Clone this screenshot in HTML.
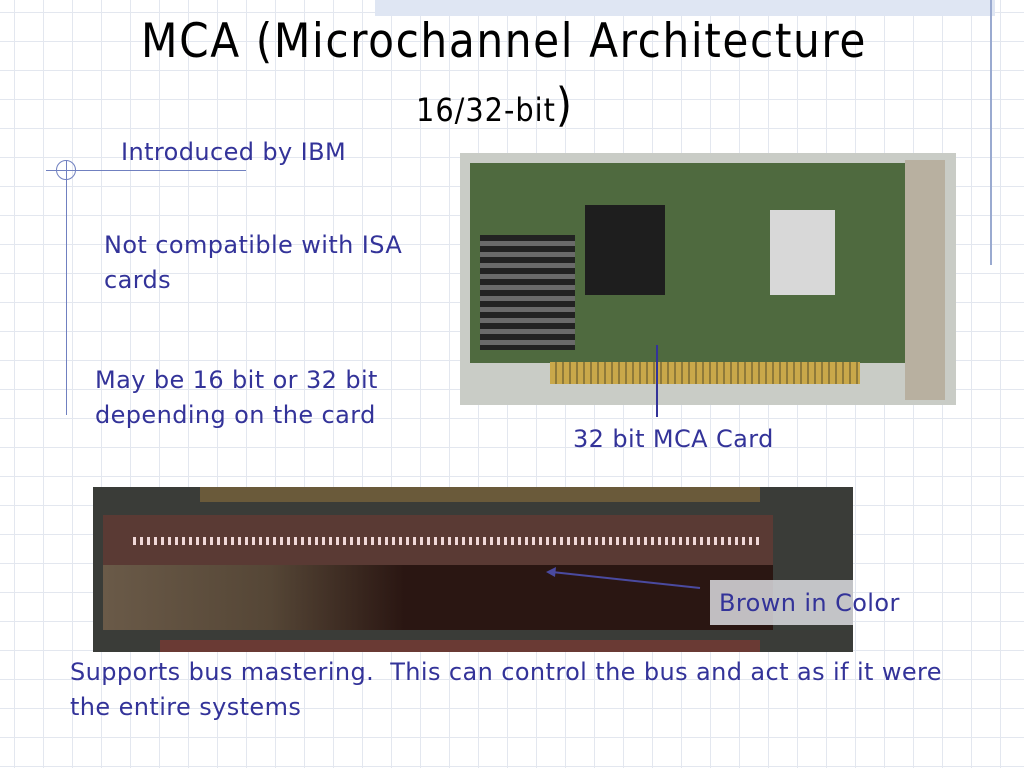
<!DOCTYPE html>
<html><head><style>
body{margin:0}
#s{position:relative;width:1024px;height:768px;overflow:hidden;background-color:#fff;
background-image:linear-gradient(#e3e7ef 1px,transparent 1px),linear-gradient(90deg,#e3e7ef 1px,transparent 1px);
background-size:29px 29px;background-position:14px 12px;font-family:"DejaVu Sans Condensed","Liberation Sans",sans-serif}
.t{position:absolute;color:#333399;font-size:24px;line-height:35px;font-family:"DejaVu Sans",sans-serif;letter-spacing:0.4px;white-space:nowrap}
.a{position:absolute}
</style></head><body><div id="s">
<div class="a" style="left:375px;top:0;width:620px;height:16px;background:#dfe6f3"></div>
<div class="a" style="left:990px;top:0;width:2px;height:265px;background:#9aaad0"></div>
<div class="a" style="left:46px;top:170px;width:200px;height:1px;background:#7080c0"></div>
<div class="a" style="left:66px;top:160px;width:1px;height:255px;background:#7080c0"></div>
<div class="a" style="left:56px;top:160px;width:20px;height:20px;border:1px solid #7080c0;border-radius:50%;box-sizing:border-box"></div>
<div class="a" style="left:0;top:14px;width:1008px;text-align:center;font-size:47px;line-height:56px;color:#000;letter-spacing:1.6px">MCA (Microchannel Architecture</div>
<div class="a" style="left:416px;top:80px;font-size:32px;line-height:50px;color:#000;letter-spacing:1px">16/32-bit<span style="font-size:46px">)</span></div>
<div class="t" style="left:121px;top:135px">Introduced by IBM</div>
<div class="t" style="left:104px;top:228px">Not compatible with ISA<br>cards</div>
<div class="t" style="left:95px;top:363px">May be 16 bit or 32 bit<br>depending on the card</div>
<div class="t" style="left:573px;top:422px">32 bit MCA Card</div>
<div class="t" style="left:70px;top:655px">Supports bus mastering.&nbsp; This can control the bus and act as if it were<br>the entire systems</div>
<!-- card photo -->
<div class="a" style="left:460px;top:153px;width:496px;height:252px;background:#c9ccc6"></div>
<div class="a" style="left:470px;top:163px;width:440px;height:200px;background:#4f6a3f"></div>
<div class="a" style="left:480px;top:235px;width:95px;height:115px;background:repeating-linear-gradient(#222 0 6px,#6a6a6a 6px 11px)"></div>
<div class="a" style="left:585px;top:205px;width:80px;height:90px;background:#1e1e1e"></div>
<div class="a" style="left:770px;top:210px;width:65px;height:85px;background:#d8d8d8"></div>
<div class="a" style="left:550px;top:362px;width:310px;height:22px;background:repeating-linear-gradient(90deg,#c9a84a 0 5px,#8f7a3a 5px 7px)"></div>
<div class="a" style="left:905px;top:160px;width:40px;height:240px;background:#b8b0a0"></div>
<div class="a" style="left:656px;top:345px;width:2px;height:72px;background:#333399"></div>
<!-- slot photo -->
<div class="a" style="left:93px;top:487px;width:760px;height:165px;background:#3a3c38"></div>
<div class="a" style="left:103px;top:515px;width:670px;height:50px;background:#5a3a34"></div>
<div class="a" style="left:133px;top:537px;width:630px;height:8px;background:repeating-linear-gradient(90deg,#f0d8d8 0 3px,#5a3a34 3px 7px)"></div>
<div class="a" style="left:103px;top:565px;width:670px;height:65px;background:linear-gradient(90deg,#6a5a48 0,#554636 25%,#2a1612 45%,#2a1612 100%)"></div>
<div class="a" style="left:160px;top:640px;width:600px;height:12px;background:#6a3a34"></div>
<div class="a" style="left:200px;top:487px;width:560px;height:15px;background:#6a5a3a"></div>
<svg class="a" style="left:0;top:0" width="1024" height="768"><line x1="700" y1="588" x2="552" y2="572" stroke="#4a4aa0" stroke-width="2"/><polygon points="546,572 556,567 555,577" fill="#4a4aa0"/></svg>
<div class="a" style="left:710px;top:580px;width:143px;height:45px;background:rgba(220,220,225,0.85)"></div>
<div class="t" style="left:719px;top:586px">Brown in Color</div>
</div></body></html>
